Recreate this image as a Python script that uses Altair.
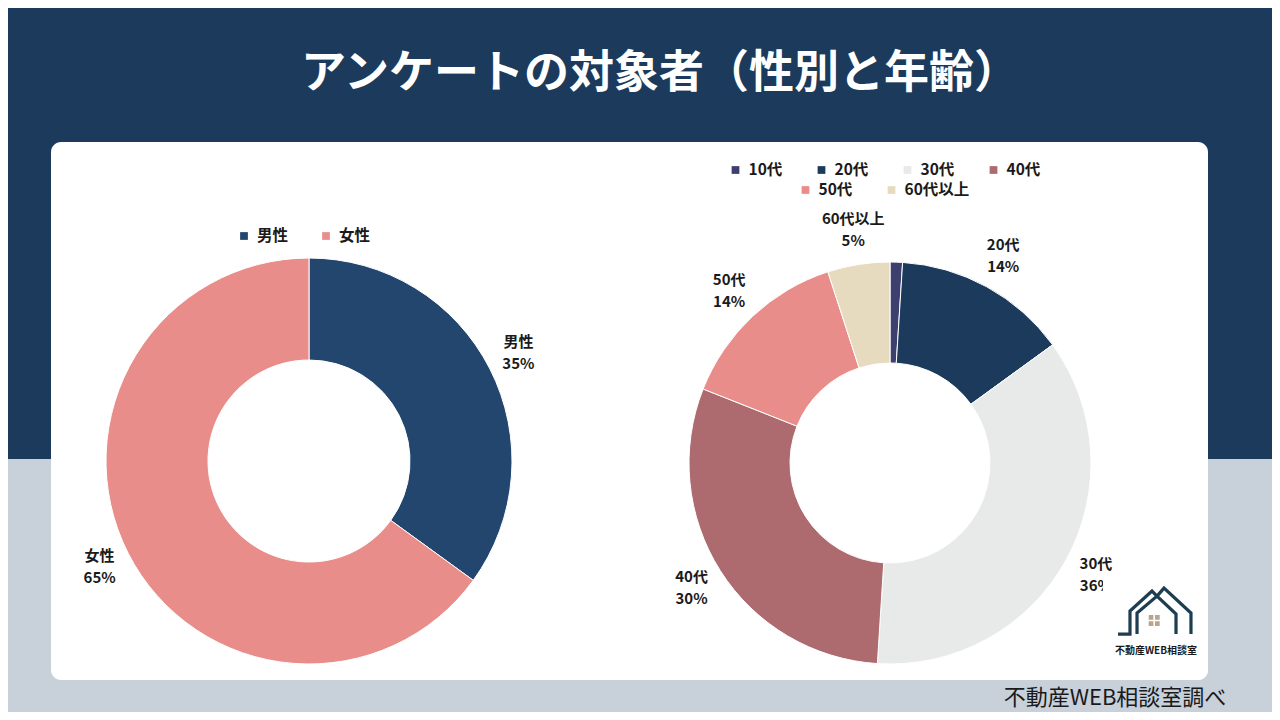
import altair as alt
import pandas as pd

# ---------------- data ----------------
title = "アンケートの対象者（性別と年齢）"
sex_cats = ["男性", "女性"]
sex_vals = [35, 65]
sex_colors = ["#23466f", "#e98d8b"]

age_cats = ["10代", "20代", "30代", "40代", "50代", "60代以上"]
age_vals = [1, 14, 36, 30, 14, 5]
age_colors = ["#3d3f6e", "#1b3a5c", "#e8eae9", "#ad6b6f", "#e98d8b", "#e6dbbf"]

footer = "不動産WEB相談室調べ"
logo_text = "不動産WEB相談室"

# ---------------- layout ----------------
OX, OY = 8, 8          # page margin
W, H = 1264, 704
FONT = "Noto Sans CJK JP"
NAVY = "#1b3a5c"
GREY = "#c8d0da"


def X(p):
    return p - OX


def Y(p):
    return p - OY


color_scale = alt.Scale(domain=sex_cats + age_cats, range=sex_colors + age_colors)

sex_df = pd.DataFrame({"cat": sex_cats, "value": sex_vals, "order": list(range(len(sex_cats)))})
age_df = pd.DataFrame({"cat": age_cats, "value": age_vals, "order": list(range(len(age_cats)))})


def donut(df, cx, cy, r_out, r_in, r_lab):
    base = alt.Chart(df).encode(
        theta=alt.Theta("value:Q", stack=True),
        order=alt.Order("order:Q"),
        x=alt.value(X(cx)),
        y=alt.value(Y(cy)),
    )
    arcs = base.mark_arc(radius=r_out, radius2=r_in, stroke="white", strokeWidth=1).encode(
        color=alt.Color("cat:N", scale=color_scale, legend=None)
    )
    labels = base.transform_calculate(
        label="datum.value >= 2 ? datum.cat + '\\n' + datum.value + '%' : ''"
    ).mark_text(
        radius=r_lab, lineBreak="\n", font=FONT, fontWeight="bold", fontSize=15,
        lineHeight=22, color="#1a1a1a", align="center", baseline="middle", dy=-12
    ).encode(text="label:N")
    return arcs, labels


def legend(cats, starts, rows, ys, pitch):
    recs = []
    i = 0
    for r, n in enumerate(rows):
        for j in range(n):
            recs.append({"cat": cats[i], "px": X(starts[r] + j * pitch), "py": Y(ys[r])})
            i += 1
    df = pd.DataFrame(recs)
    sq = alt.Chart(df).mark_square(size=60, opacity=1).encode(
        x=alt.X("px:Q", scale=None), y=alt.Y("py:Q", scale=None),
        color=alt.Color("cat:N", scale=color_scale, legend=None),
    )
    tx = alt.Chart(df).mark_text(
        align="left", baseline="middle", dx=13, font=FONT, fontWeight="bold",
        fontSize=15.5, color="#1a1a1a"
    ).encode(
        x=alt.X("px:Q", scale=None), y=alt.Y("py:Q", scale=None), text="cat:N"
    )
    return sq, tx


# backgrounds
one = pd.DataFrame({"a": [0]})
navy_bg = alt.Chart(one).mark_rect(color=NAVY).encode(
    x=alt.value(0), x2=alt.value(W), y=alt.value(0), y2=alt.value(Y(459))
)
card = alt.Chart(one).mark_rect(color="white", cornerRadius=10).encode(
    x=alt.value(X(51)), x2=alt.value(X(1208)), y=alt.value(Y(142)), y2=alt.value(Y(680))
)
title_t = alt.Chart(one).mark_text(
    font=FONT, fontWeight="bold", fontSize=45, color="white", align="center", baseline="middle"
).encode(x=alt.value(X(660)), y=alt.value(Y(74)), text=alt.value(title))

arcs1, labels1 = donut(sex_df, 309, 461, 203, 101, 235)
arcs2, labels2 = donut(age_df, 890, 463, 201, 100, 235)

leg1_sq, leg1_tx = legend(sex_cats, [244], [2], [236], 82)
leg2_sq, leg2_tx = legend(age_cats, [735.5, 805.5], [4, 2], [170, 190], 86)

# logo
logo_box = alt.Chart(one).mark_rect(color="white", cornerRadiusBottomRight=10).encode(
    x=alt.value(X(1103)), x2=alt.value(X(1208)), y=alt.value(Y(575)), y2=alt.value(Y(680))
)
house_path = (
    "M-0.96,0.62 L-0.645,0.62 L-0.645,0.013 L-0.066,-0.513 L0.066,-0.38 "
    "L0.25,-0.59 L0.96,0.066 L0.96,0.62 "
    "M-0.46,0.62 L-0.46,0.066 L0.066,-0.38 L0.566,0.092 L0.566,0.62"
)
house = alt.Chart(one).mark_point(
    shape=house_path, size=76 * 76, filled=False, stroke="#1d3d50", strokeWidth=3.2,
    opacity=1, strokeJoin="miter"
).encode(x=alt.value(X(1154.5)), y=alt.value(Y(610.5)))
win_path = (
    "M-1,-1 L-0.15,-1 L-0.15,-0.15 L-1,-0.15 Z "
    "M0.15,-1 L1,-1 L1,-0.15 L0.15,-0.15 Z "
    "M-1,0.15 L-0.15,0.15 L-0.15,1 L-1,1 Z "
    "M0.15,0.15 L1,0.15 L1,1 L0.15,1 Z"
)
windows = alt.Chart(one).mark_point(
    shape=win_path, size=11 * 11, filled=True, fill="#b8a58b", strokeWidth=0, opacity=1
).encode(x=alt.value(X(1154.2)), y=alt.value(Y(620.5)))
logo_t = alt.Chart(one).mark_text(
    font=FONT, fontWeight="bold", fontSize=10, color="#1a1a1a", align="center", baseline="middle"
).encode(x=alt.value(X(1156)), y=alt.value(Y(651)), text=alt.value(logo_text))

footer_t = alt.Chart(one).mark_text(
    font=FONT, fontSize=22, color="#1a1a1a", align="center", baseline="middle"
).encode(x=alt.value(X(1115)), y=alt.value(Y(698)), text=alt.value(footer))

chart = alt.layer(
    navy_bg, card, title_t,
    arcs1, labels1, arcs2, labels2,
    leg1_sq, leg1_tx, leg2_sq, leg2_tx,
    logo_box, house, windows, logo_t, footer_t,
).properties(
    width=W, height=H, background=GREY, padding=0, autosize="none"
).configure_view(stroke=None)

chart.save("out.html", embed_options={"renderer": "svg", "actions": False})
